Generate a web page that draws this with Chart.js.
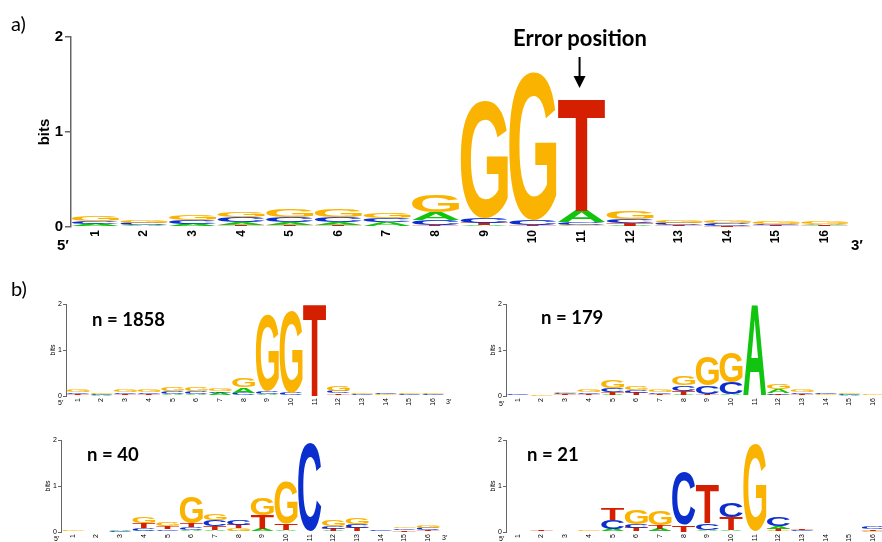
<!DOCTYPE html>
<html>
<head>
<meta charset="utf-8">
<script src="https://cdn.jsdelivr.net/npm/chart.js@4.4.0/dist/chart.umd.min.js"></script>
<style>
  html, body { margin: 0; padding: 0; background: #fff; overflow: hidden; }
  #page { position: relative; width: 882px; height: 542px; overflow: hidden; }
  .box { position: absolute; }
  .lbl { position: absolute; line-height: 1; white-space: nowrap; color: #000; font-family: Lato, sans-serif; }
  .prime { position: absolute; line-height: 1; white-space: nowrap; color: #000; font-family: "Liberation Sans", Arial, sans-serif; }
</style>
</head>
<body>
<div id="page">
  <div class="box" style="left:0;top:0;width:882px;height:265px"><canvas id="logoAll"></canvas></div>
  <div class="box" style="left:0;top:280px;width:450px;height:130px"><canvas id="logo1858"></canvas></div>
  <div class="box" style="left:440px;top:280px;width:450px;height:130px"><canvas id="logo179"></canvas></div>
  <div class="box" style="left:-5px;top:416px;width:450px;height:130px"><canvas id="logo40"></canvas></div>
  <div class="box" style="left:440px;top:416px;width:450px;height:130px"><canvas id="logo21"></canvas></div>

  <div class="lbl" style="left:11px;top:13px;font-size:20px">a)</div>
  <div class="lbl" style="left:11px;top:278px;font-size:20px">b)</div>
  <div class="lbl" style="left:480px;top:27px;width:200px;text-align:center;font-size:22px;font-weight:bold">Error position</div>

  <div class="lbl" style="left:92px;top:310px;font-size:18.5px;font-weight:bold">n = 1858</div>
  <div class="lbl" style="left:541px;top:308px;font-size:18.5px;font-weight:bold">n = 179</div>
  <div class="lbl" style="left:87px;top:445px;font-size:18.5px;font-weight:bold">n = 40</div>
  <div class="lbl" style="left:527px;top:445px;font-size:18.5px;font-weight:bold">n = 21</div>

  <div class="prime" style="left:57px;top:237px;font-size:15px;font-weight:bold">5′</div>
  <div class="prime" style="left:851px;top:237px;font-size:15px;font-weight:bold">3′</div>
  <div class="prime" style="left:58px;top:399px;font-size:7px">5′</div>
  <div class="prime" style="left:446px;top:398px;font-size:7px">3′</div>
  <div class="prime" style="left:499px;top:400px;font-size:7px">5′</div>
  <div class="prime" style="left:54px;top:535px;font-size:7px">5′</div>
  <div class="prime" style="left:442px;top:534px;font-size:7px">3′</div>
  <div class="prime" style="left:499px;top:535px;font-size:7px">5′</div>
</div>

<script>
const positions = ['1','2','3','4','5','6','7','8','9','10','11','12','13','14','15','16'];
const yTicks = [0, 1, 2];

// a) all reads, bits per base
const allA = [0.02, 0.015, 0.02, 0.03, 0.03, 0.03, 0.04, 0.08, 0.02, 0.01, 0.12, 0.015, 0.008, 0.005, 0.01, 0.015];
const allC = [0.03, 0.02, 0.04, 0.05, 0.05, 0.05, 0.045, 0.06, 0.05, 0.05, 0.03, 0.04, 0.025, 0.025, 0.015, 0.01];
const allG = [0.05, 0.03, 0.05, 0.055, 0.085, 0.08, 0.06, 0.18, 1.24, 1.56, 0.02, 0.085, 0.03, 0.025, 0.02, 0.02];
const allT = [0.01, 0.008, 0.01, 0.02, 0.02, 0.02, 0.01, 0.015, 0.025, 0.015, 1.18, 0.03, 0.012, 0.01, 0.01, 0.01];

// b) n = 1858
const n1858A = [0.02, 0.015, 0.02, 0.02, 0.03, 0.03, 0.04, 0.12, 0.03, 0.01, 0, 0.02, 0.01, 0.01, 0.01, 0.01];
const n1858C = [0.04, 0.02, 0.04, 0.04, 0.05, 0.05, 0.04, 0.05, 0.05, 0.05, 0, 0.05, 0.02, 0.02, 0.015, 0.015];
const n1858G = [0.06, 0.04, 0.06, 0.06, 0.07, 0.07, 0.06, 0.2, 1.66, 1.78, 0, 0.1, 0.02, 0.015, 0.015, 0.015];
const n1858T = [0.02, 0.01, 0.02, 0.02, 0.02, 0.02, 0.02, 0.02, 0.02, 0.005, 1.99, 0.035, 0.01, 0.01, 0.01, 0.01];

// b) n = 179
const n179A = [0.01, 0, 0.015, 0.02, 0.03, 0.02, 0.02, 0.03, 0.02, 0.03, 1.98, 0.08, 0.02, 0.01, 0.015, 0.005];
const n179C = [0.02, 0.005, 0.03, 0.04, 0.09, 0.06, 0.04, 0.12, 0.18, 0.24, 0, 0.03, 0.04, 0.025, 0.02, 0.005];
const n179G = [0, 0.015, 0.035, 0.045, 0.17, 0.07, 0.045, 0.2, 0.63, 0.66, 0, 0.12, 0.05, 0.015, 0.02, 0.015];
const n179T = [0.005, 0.005, 0.02, 0.02, 0.05, 0.04, 0.02, 0.08, 0.03, 0.02, 0, 0.03, 0.03, 0.01, 0.01, 0.005];

// b) n = 40
const n40A = [0, 0, 0.025, 0.03, 0.02, 0.04, 0.05, 0.03, 0.04, 0.05, 0, 0.03, 0.02, 0, 0.01, 0.02];
const n40C = [0, 0, 0.015, 0.05, 0.04, 0.06, 0.13, 0.1, 0.02, 0, 1.93, 0.06, 0.08, 0.03, 0.04, 0.05];
const n40G = [0.03, 0, 0.01, 0.13, 0.08, 0.58, 0.15, 0.06, 0.36, 0.92, 0, 0.15, 0.13, 0, 0.04, 0.05];
const n40T = [0, 0, 0, 0.12, 0.06, 0.08, 0.08, 0.07, 0.3, 0.13, 0, 0.04, 0.07, 0, 0.03, 0.02];

// b) n = 21
const n21A = [0, 0, 0, 0, 0.04, 0.02, 0.04, 0, 0.05, 0.05, 0, 0.06, 0.01, 0, 0, 0.01];
const n21C = [0, 0.015, 0, 0.01, 0.2, 0.09, 0.03, 1.15, 0.15, 0.3, 0, 0.2, 0.02, 0, 0, 0.05];
const n21G = [0, 0, 0, 0.02, 0.02, 0.3, 0.3, 0, 0, 0, 1.89, 0.03, 0.01, 0, 0, 0.02];
const n21T = [0, 0.015, 0, 0.005, 0.26, 0.07, 0.07, 0.15, 0.85, 0.28, 0, 0.04, 0.02, 0, 0, 0.03];

const letterColors = { A: '#10c410', C: '#0b2ecf', G: '#fab300', T: '#d42000' };
const glyphFont = 'bold 200px "Liberation Sans", Arial, sans-serif';
const glyphBoxes = {};

function glyphBox(ctx, letter) {
    if (!glyphBoxes[letter]) {
        ctx.save();
        ctx.font = glyphFont;
        const m = ctx.measureText(letter);
        ctx.restore();
        glyphBoxes[letter] = {
            l: m.actualBoundingBoxLeft, r: m.actualBoundingBoxRight,
            a: m.actualBoundingBoxAscent, d: m.actualBoundingBoxDescent
        };
    }
    return glyphBoxes[letter];
}

// every stacked bar is painted as its letter, stretched into the bar rectangle
const logoLetters = {
    id: 'logoLetters',
    afterDatasetsDraw(chart) {
        const ctx = chart.ctx;
        chart.data.datasets.forEach((ds, di) => {
            chart.getDatasetMeta(di).data.forEach((bar, i) => {
                const { x, y, base, width } = bar.getProps(['x', 'y', 'base', 'width'], true);
                const h = base - y;
                if (!(h > 0.3)) return;
                const letter = ds.letters[i];
                const g = glyphBox(ctx, letter);
                ctx.save();
                ctx.translate(x - width / 2, y);
                ctx.scale(width / (g.l + g.r), h / (g.a + g.d));
                ctx.font = glyphFont;
                ctx.textAlign = 'left';
                ctx.textBaseline = 'alphabetic';
                ctx.fillStyle = letterColors[letter];
                ctx.fillText(letter, g.l, g.a);
                ctx.restore();
            });
        });
    }
};

// arrow pointing at position 11 in panel a
const errorArrow = {
    id: 'errorArrow',
    afterDraw(chart) {
        const ctx = chart.ctx;
        const x = chart.scales.x.getPixelForValue(10) - 2;
        ctx.save();
        ctx.strokeStyle = '#000';
        ctx.fillStyle = '#000';
        ctx.lineWidth = 2;
        ctx.beginPath();
        ctx.moveTo(x, 57);
        ctx.lineTo(x, 78);
        ctx.stroke();
        ctx.beginPath();
        ctx.moveTo(x - 6, 76);
        ctx.lineTo(x + 6, 76);
        ctx.lineTo(x, 88);
        ctx.closePath();
        ctx.fill();
        ctx.restore();
    }
};

function buildDatasets(A, C, G, T) {
    const sets = [0, 1, 2, 3].map(() => ({
        data: [], letters: [],
        backgroundColor: 'rgba(0,0,0,0)', borderWidth: 0,
        barPercentage: 0.97, categoryPercentage: 1
    }));
    positions.forEach((p, i) => {
        const col = [['A', A[i]], ['C', C[i]], ['G', G[i]], ['T', T[i]]].sort((a, b) => a[1] - b[1]);
        col.forEach(([letter, v], r) => {
            sets[r].data.push(v);
            sets[r].letters.push(letter);
        });
    });
    return sets;
}

function makeLogo(id, sets, o, extra) {
    return new Chart(document.getElementById(id), {
        type: 'bar',
        data: { labels: positions, datasets: sets },
        plugins: extra ? [logoLetters, extra] : [logoLetters],
        options: {
            responsive: true,
            maintainAspectRatio: false,
            animation: false,
            layout: { padding: o.padding },
            plugins: { legend: { display: false }, tooltip: { enabled: false } },
            scales: {
                x: {
                    stacked: true,
                    grid: { display: false, drawTicks: false },
                    border: { display: false },
                    ticks: {
                        autoSkip: false, minRotation: 90, maxRotation: 90,
                        padding: o.xPad, color: '#000', font: o.xFont
                    },
                    afterFit: (axis) => { axis.height = o.xHeight; }
                },
                y: {
                    stacked: true,
                    min: 0, max: 2,
                    afterBuildTicks: (axis) => { axis.ticks = yTicks.map(v => ({ value: v })); },
                    grid: { drawOnChartArea: false, drawTicks: true, tickLength: o.tickLen, color: '#666', lineWidth: o.lineW },
                    border: { display: true, color: '#666', width: o.lineW },
                    ticks: { padding: o.yPad, color: '#000', font: o.yFont },
                    title: { display: true, text: 'bits', color: '#000', font: o.titleFont, padding: o.titlePad },
                    afterFit: (axis) => { axis.width = o.yWidth; }
                }
            }
        }
    });
}

const bigOpts = {
    padding: { left: 31, right: 33, top: 37, bottom: 0 },
    xPad: 3, xFont: { family: '"Liberation Sans", Arial', size: 12, weight: 'bold' }, xHeight: 38,
    tickLen: 6, lineW: 1.5, yPad: 2,
    yFont: { family: '"Liberation Sans", Arial', size: 15, weight: 'bold' },
    titleFont: { family: '"Liberation Sans", Arial', size: 15, weight: 'bold' },
    titlePad: { top: 5, bottom: 0 }, yWidth: 40
};

const smallOpts = {
    padding: { left: 46, right: 5, top: 24, bottom: 0 },
    xPad: 2, xFont: { family: '"Liberation Sans", Arial', size: 7 }, xHeight: 14,
    tickLen: 3, lineW: 1, yPad: 1,
    yFont: { family: '"Liberation Sans", Arial', size: 7 },
    titleFont: { family: '"Liberation Sans", Arial', size: 7 },
    titlePad: { top: 3, bottom: 0 }, yWidth: 20
};

makeLogo('logoAll', buildDatasets(allA, allC, allG, allT), bigOpts, errorArrow);
makeLogo('logo1858', buildDatasets(n1858A, n1858C, n1858G, n1858T), smallOpts);
makeLogo('logo179', buildDatasets(n179A, n179C, n179G, n179T), smallOpts);
makeLogo('logo40', buildDatasets(n40A, n40C, n40G, n40T), smallOpts);
makeLogo('logo21', buildDatasets(n21A, n21C, n21G, n21T), smallOpts);
</script>
</body>
</html>
